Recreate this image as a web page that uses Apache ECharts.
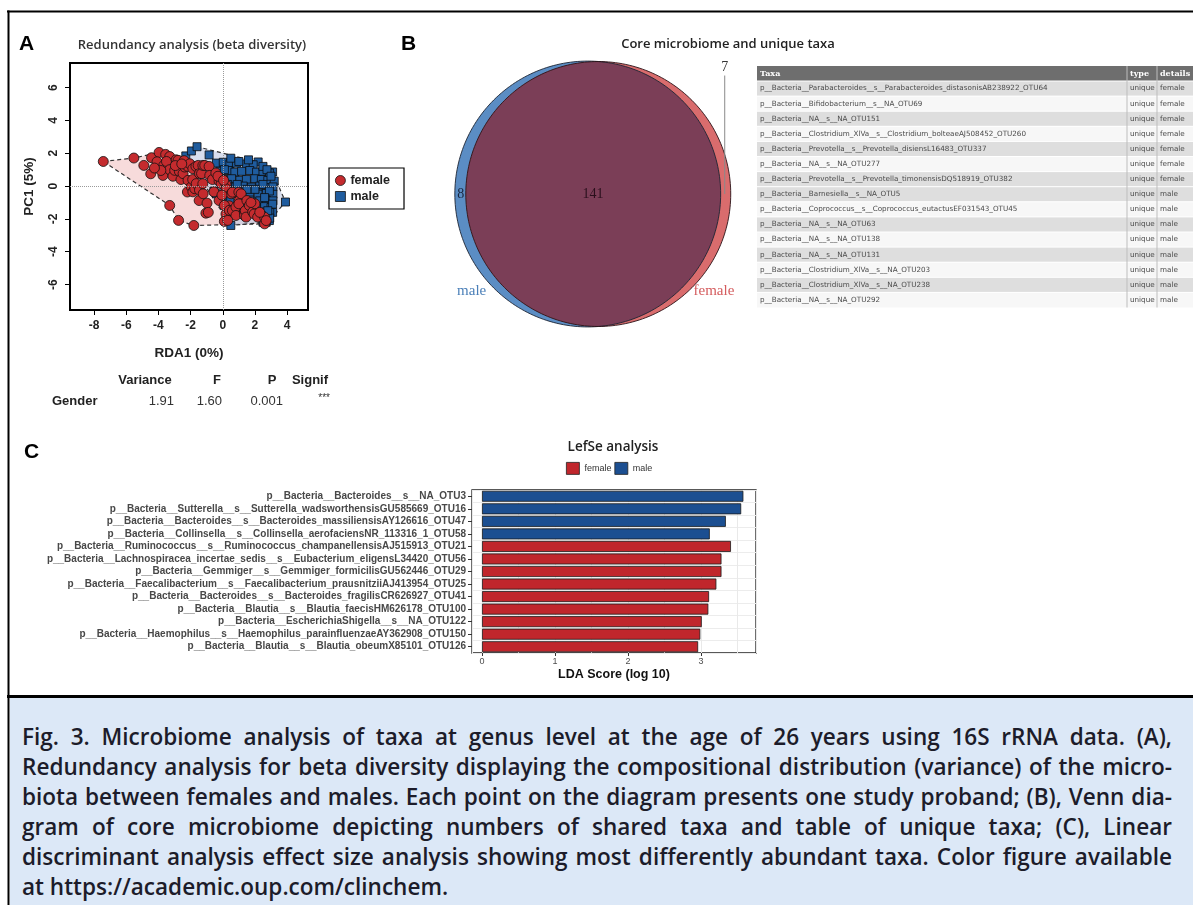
<!DOCTYPE html>
<html><head><meta charset="utf-8">
<script src="https://cdn.jsdelivr.net/npm/echarts@6/dist/echarts.min.js"></script>
<style>
html,body{margin:0;padding:0;background:#fff;}
#wrap{position:relative;width:1193px;height:905px;overflow:hidden;}
#chart{position:absolute;left:0;top:0;width:1193px;height:905px;}
#caption{position:absolute;left:10px;top:698px;width:1183px;height:207px;background:#dce8f7;overflow:hidden;}
#capText{position:absolute;left:12px;top:23px;width:1150px;transform-origin:0 0;font-family:"Open Sans","Noto Sans",sans-serif;font-weight:600;font-size:24px;line-height:30px;color:#1c1c2a;}
#capText div{text-align:justify;text-align-last:justify;}
#capText div.last{text-align-last:left;}
</style>
</head><body>
<div id="wrap">
<div id="chart"></div>
<div id="caption"><div id="capText">
<div>Fig. 3. Microbiome analysis of taxa at genus level at the age of 26 years using 16S rRNA data. (A),</div>
<div>Redundancy analysis for beta diversity displaying the compositional distribution (variance) of the micro-</div>
<div>biota between females and males. Each point on the diagram presents one study proband; (B), Venn dia-</div>
<div>gram of core microbiome depicting numbers of shared taxa and table of unique taxa; (C), Linear</div>
<div>discriminant analysis effect size analysis showing most differently abundant taxa. Color figure available</div>
<div class="last">at https://academic.oup.com/clinchem.</div>
</div></div>
</div>
<script>
// ---------------- DATA ----------------
// Panel A: RDA scores (RDA1, PC1)
const femalePts = [
[-7.43,1.50],[-5.53,1.71],[-4.91,1.26],[-4.48,0.75],[-4.43,1.73],[-3.96,2.05],[-4.09,1.48],[-3.72,0.65],[-3.55,1.93],[-3.67,1.26],
[-3.30,1.80],[-3.50,1.50],[-3.30,1.00],[-3.10,0.60],[-2.99,0.96],[-2.90,1.60],[-2.78,1.57],[-2.70,0.90],[-2.60,0.40],[-2.47,0.76],
[-2.40,1.55],[-2.37,1.16],[-2.20,-0.36],[-2.18,1.20],[-2.16,0.35],[-2.05,1.36],[-1.96,-0.05],[-1.87,0.40],[-1.86,1.06],[-1.86,-0.35],
[-1.74,-0.16],[-1.67,1.20],[-1.65,0.15],[-1.53,1.26],[-1.47,-0.88],[-1.45,0.76],[-1.45,-0.25],[-1.32,0.76],[-1.24,1.26],[-1.24,0.15],
[-1.22,-0.47],[-1.12,1.26],[-1.05,-1.65],[-0.98,-1.04],[-0.85,1.20],[-0.81,0.65],[-0.64,0.40],[-0.43,0.80],[-0.23,0.30],[-0.23,-0.88],
[-0.10,0.15],[0.20,0.10],[0.21,-0.16],[0.52,-0.47],[0.60,-0.37],[0.40,-1.20],[0.10,-1.18],[0.20,-1.70],[0.41,-1.48],[0.60,-1.50],
[0.82,-1.28],[0.82,-1.79],[1.00,-0.37],[1.03,-0.87],[1.14,-0.47],[1.00,-1.08],[1.34,-1.58],[1.35,-1.80],[1.40,-1.50],[1.45,-1.89],
[1.50,-0.88],[1.65,-1.18],[1.86,-1.58],[1.95,-1.70],[2.00,-1.08],[2.17,-1.89],[2.60,-1.90],[2.60,-2.30],[2.70,-2.10],[0.10,-2.15],
[0.31,-2.09],[-3.30,-1.18],[-2.75,-2.09],[-1.80,-2.40],[-0.90,-1.60],[-0.55,-0.35],[-0.30,0.60],[0.05,0.35],[-2.95,1.25],[-3.85,0.95],
[-4.25,1.10],[-2.55,1.35],[2.30,-1.60],[1.75,-1.00],[-0.05,-0.55]
];
const malePts = [
[-2.30,1.84],[-1.95,2.14],[-1.60,2.40],[-0.85,1.90],[2.20,1.47],[3.10,0.86],[3.90,-0.97],[0.50,-2.40],[2.90,-2.10],[2.70,-2.20],
[-0.39,1.40],[0.03,1.45],[0.44,1.35],[0.85,1.40],[1.47,1.35],[1.89,1.30],
[-0.18,0.90],[0.34,0.95],[0.75,0.85],[1.17,0.90],[1.68,0.95],[2.10,0.85],[2.50,0.90],[2.90,0.80],
[0.03,0.40],[0.55,0.45],[1.06,0.35],[1.47,0.40],[1.99,0.45],[2.40,0.40],[2.80,0.35],[3.20,0.30],
[0.65,-0.06],[1.27,0.00],[1.78,-0.06],[2.30,0.00],[2.71,-0.10],[3.12,-0.05],
[-0.39,-0.47],[0.13,-0.50],[0.96,-0.45],[1.68,-0.47],[2.20,-0.50],[2.71,-0.45],[3.12,-0.50],
[0.44,-0.90],[1.06,-0.87],[1.68,-0.85],[2.30,-0.90],[2.71,-0.87],[3.12,-0.90],
[1.27,-1.30],[2.09,-1.28],[2.60,-1.25],[3.00,-1.30],[3.10,-1.60],
[1.68,-1.60],[2.30,-1.58],[2.92,-1.60],[2.71,-2.00],[2.92,-1.95],[2.50,-2.20],
[0.50,1.70],[1.00,1.50],[1.60,1.60],[2.50,1.20],[2.75,1.00],[3.00,0.60],[2.50,0.10],[2.90,-0.30],[2.60,-0.70],[2.00,-0.20],
[1.50,-0.20],[0.90,0.10],[0.30,0.10],[-0.20,0.60],[0.10,1.00],[3.10,-1.10],[2.80,-1.50],[2.40,-1.80],[0.00,-0.60],[-0.55,-0.30]
];
const femaleHull = [[-7.43,1.50],[-5.53,1.71],[-3.96,2.05],[-0.85,1.20],[2.00,-1.08],[2.60,-1.90],[2.70,-2.10],[2.60,-2.30],[-1.80,-2.40],[-2.75,-2.09],[-3.30,-1.18]];
const maleHull = [[-2.30,1.84],[-1.60,2.40],[2.20,1.47],[3.10,0.86],[3.90,-0.97],[2.90,-2.10],[2.70,-2.20],[0.50,-2.40]];
const rdaXTicks = [-8,-6,-4,-2,0,2,4];
const rdaYTicks = [-6,-4,-2,0,2,4,6];
const statsHeader = ['Variance','F','P','Signif'];
const statsRowName = 'Gender';
const statsRowValues = ['1.91','1.60','0.001','***'];

// Panel B: Venn counts and unique-taxa table
const vennUniqueMale = 8;
const vennUniqueFemale = 7;
const vennShared = 141;
const tableHeader = ['Taxa','type','details'];
const taxaNames = [
'p__Bacteria__Parabacteroides__s__Parabacteroides_distasonisAB238922_OTU64',
'p__Bacteria__Bifidobacterium__s__NA_OTU69',
'p__Bacteria__NA__s__NA_OTU151',
'p__Bacteria__Clostridium_XlVa__s__Clostridium_bolteaeAJ508452_OTU260',
'p__Bacteria__Prevotella__s__Prevotella_disiensL16483_OTU337',
'p__Bacteria__NA__s__NA_OTU277',
'p__Bacteria__Prevotella__s__Prevotella_timonensisDQ518919_OTU382',
'p__Bacteria__Barnesiella__s__NA_OTU5',
'p__Bacteria__Coprococcus__s__Coprococcus_eutactusEF031543_OTU45',
'p__Bacteria__NA__s__NA_OTU63',
'p__Bacteria__NA__s__NA_OTU138',
'p__Bacteria__NA__s__NA_OTU131',
'p__Bacteria__Clostridium_XlVa__s__NA_OTU203',
'p__Bacteria__Clostridium_XlVa__s__NA_OTU238',
'p__Bacteria__NA__s__NA_OTU292'
];
const taxaType = ['unique','unique','unique','unique','unique','unique','unique','unique','unique','unique','unique','unique','unique','unique','unique'];
const taxaDetails = ['female','female','female','female','female','female','female','male','male','male','male','male','male','male','male'];

// Panel C: LEfSe
const lefseTaxa = [
'p__Bacteria__Bacteroides__s__NA_OTU3',
'p__Bacteria__Sutterella__s__Sutterella_wadsworthensisGU585669_OTU16',
'p__Bacteria__Bacteroides__s__Bacteroides_massiliensisAY126616_OTU47',
'p__Bacteria__Collinsella__s__Collinsella_aerofaciensNR_113316_1_OTU58',
'p__Bacteria__Ruminococcus__s__Ruminococcus_champanellensisAJ515913_OTU21',
'p__Bacteria__Lachnospiracea_incertae_sedis__s__Eubacterium_eligensL34420_OTU56',
'p__Bacteria__Gemmiger__s__Gemmiger_formicilisGU562446_OTU29',
'p__Bacteria__Faecalibacterium__s__Faecalibacterium_prausnitziiAJ413954_OTU25',
'p__Bacteria__Bacteroides__s__Bacteroides_fragilisCR626927_OTU41',
'p__Bacteria__Blautia__s__Blautia_faecisHM626178_OTU100',
'p__Bacteria__EscherichiaShigella__s__NA_OTU122',
'p__Bacteria__Haemophilus__s__Haemophilus_parainfluenzaeAY362908_OTU150',
'p__Bacteria__Blautia__s__Blautia_obeumX85101_OTU126'
];
const lefseScores = [3.58,3.55,3.34,3.12,3.41,3.28,3.28,3.21,3.11,3.10,3.01,2.99,2.96];
const lefseGroup = ['male','male','male','male','female','female','female','female','female','female','female','female','female'];
const ldaTicks = [0,1,2,3];

// ---------------- CAPTION FIT (condense to the widest line) ----------------
(function(){
  const box = document.getElementById('capText');
  const lines = Array.from(box.children);
  let maxW = 0;
  lines.forEach(d => {
    const s = document.createElement('span');
    s.style.whiteSpace = 'nowrap';
    s.textContent = d.textContent;
    d.textContent = '';
    d.appendChild(s);
    maxW = Math.max(maxW, s.getBoundingClientRect().width);
  });
  lines.forEach(d => { d.textContent = d.firstChild.textContent; });
  const target = 1150 * 0.985;
  const sc = Math.min(1, target / maxW);
  box.style.width = (1150 / sc) + 'px';
  box.style.transform = 'scaleX(' + sc + ')';
})();

// ---------------- CHART ----------------
const RED = '#c42b2e', BLUE = '#1f5c9e', BAR_RED = '#c0262c', BAR_BLUE = '#1c4f91';
const chart = echarts.init(document.getElementById('chart'));

// Venn geometry derived from counts (area-proportional circles)
const rM = Math.sqrt((vennUniqueMale + vennShared) / Math.PI);
const rF = Math.sqrt((vennUniqueFemale + vennShared) / Math.PI);
function clamp1(v){ return Math.max(-1, Math.min(1, v)); }
function lensArea(d, r1, r2){
  const a1 = Math.acos(clamp1((d*d + r1*r1 - r2*r2) / (2*d*r1)));
  const a2 = Math.acos(clamp1((d*d + r2*r2 - r1*r1) / (2*d*r2)));
  return r1*r1*a1 + r2*r2*a2 - 0.5*Math.sqrt(Math.max(0,(-d+r1+r2)*(d+r1-r2)*(d-r1+r2)*(d+r1+r2)));
}
let lo = Math.abs(rM - rF) + 1e-6, hi = rM + rF;
for (let i = 0; i < 80; i++){ const mid = (lo+hi)/2; if (lensArea(mid, rM, rF) > vennShared) lo = mid; else hi = mid; }
const vD = (lo + hi) / 2;

function vennRender(params, api){
  const mc = -vD/2, fc = vD/2;
  const P = (x, y) => api.coord([x, y]);
  const circ = (cx, r) => { const pts = []; for (let i = 0; i < 240; i++){ const t = 2*Math.PI*i/240; pts.push(P(cx + r*Math.cos(t), r*Math.sin(t))); } return pts; };
  const a = (vD*vD + rM*rM - rF*rF) / (2*vD);
  const xi = mc + a, yi = Math.sqrt(Math.max(0, rM*rM - a*a));
  const phiT = Math.atan2(yi, xi - fc);
  const psiT = Math.atan2(yi, xi - mc);
  const lens = [];
  for (let i = 0; i <= 120; i++){ const t = phiT + (2*Math.PI - 2*phiT)*i/120; lens.push(P(fc + rF*Math.cos(t), rF*Math.sin(t))); }
  for (let i = 0; i <= 120; i++){ const t = -psiT + 2*psiT*i/120; lens.push(P(mc + rM*Math.cos(t), rM*Math.sin(t))); }
  const mPts = circ(mc, rM), fPts = circ(fc, rF);
  const right = P(fc + rF, 0), top = P(fc, rF), ctr = P(0, 0);
  const lbl8 = P(mc - rM*0.955, 0);
  const lblM = P(mc + 1.14*rM*Math.cos(220*Math.PI/180), 1.14*rM*Math.sin(220*Math.PI/180));
  const lblF = P(fc + 1.14*rF*Math.cos(-40*Math.PI/180), 1.14*rF*Math.sin(-40*Math.PI/180));
  const serif = '"Liberation Serif", "DejaVu Serif", serif';
  const T = (x, y, text, size, fill) => ({type:'text', x, y, style:{text, fill, fontSize:size, fontFamily:serif, align:'center', textAlign:'center', verticalAlign:'middle', textVerticalAlign:'middle'}});
  return {type:'group', children:[
    {type:'polygon', shape:{points:mPts}, style:{fill:'#5b8dc4'}},
    {type:'polygon', shape:{points:fPts}, style:{fill:'#d96c6d'}},
    {type:'polygon', shape:{points:lens}, style:{fill:'#7b3e57'}},
    {type:'polygon', shape:{points:mPts}, style:{fill:'none', stroke:'#1d2533', lineWidth:0.9}},
    {type:'polygon', shape:{points:fPts}, style:{fill:'none', stroke:'#2a1418', lineWidth:0.9}},
    {type:'line', shape:{x1:right[0]-6, y1:top[1]+14, x2:right[0]-6, y2:ctr[1]}, style:{stroke:'#8a8a8a', lineWidth:1}},
    T(right[0]-6, top[1]+6, String(vennUniqueFemale), 14, '#333'),
    T(lbl8[0], lbl8[1], String(vennUniqueMale), 14, '#18263f'),
    T(ctr[0], ctr[1], String(vennShared), 14, '#2a0f1c'),
    T(lblM[0], lblM[1], 'male', 15, '#4a7fb8'),
    T(lblF[0], lblF[1], 'female', 15, '#d45b5d')
  ]};
}

function hullSeries(name, pts, fill){
  return {type:'custom', name, xAxisIndex:0, yAxisIndex:0, data:[[0,0]], z:1, silent:true,
    renderItem:(params, api) => ({type:'polygon', shape:{points: pts.map(p => api.coord(p))},
      style:{fill, stroke:'#333', lineWidth:1.2, lineDash:[4,3]}})};
}

// ---------------- GRAPHIC (texts, table, frames) ----------------
const G = [];
function txt(x, y, text, o){
  o = o || {};
  G.push({type:'text', x, y, silent:true, z:50, style:{text, fill:o.fill || '#222', fontSize:o.size || 12,
    fontFamily:o.family || '"Liberation Sans", Arial, sans-serif', fontWeight:o.weight || 'normal',
    align:o.align || 'left', textAlign:o.align || 'left', verticalAlign:'middle', textVerticalAlign:'middle'}});
}
txt(19, 44, 'A', {size:21, weight:'bold', fill:'#000'});
txt(401, 44, 'B', {size:21, weight:'bold', fill:'#000'});
txt(24, 452, 'C', {size:21, weight:'bold', fill:'#000'});
const titleFont = '"Open Sans", "Noto Sans", sans-serif';
txt(192, 45, 'Redundancy analysis (beta diversity)', {size:13, weight:600, family:titleFont, align:'center', fill:'#333'});
txt(728, 44, 'Core microbiome and unique taxa', {size:13, weight:600, family:titleFont, align:'center', fill:'#222'});
txt(613, 447, 'LefSe analysis', {size:13.5, weight:600, family:titleFont, align:'center', fill:'#222'});
const statX = [145, 217, 272, 310];
statsHeader.forEach((h, i) => txt(statX[i], 380, h, {size:13, weight:'bold', align:'center', fill:'#222'}));
txt(52, 401, statsRowName, {size:13, weight:'bold', fill:'#222'});
const valX = [174, 222, 283, 330];
statsRowValues.forEach((v, i) => txt(valX[i], i === 3 ? 398 : 401, v, {size:i === 3 ? 10 : 13, align:'right', fill:'#333'}));
// unique taxa table
const tX = 757, tW = 436, hdrY = 66, hdrH = 15, rowH = 15.1;
const colX = [757, 1127, 1157];
const rowShade = [1,0,1,0,1,0,1,1,0,1,0,1,0,1,0];
G.push({type:'rect', z:40, silent:true, shape:{x:tX, y:hdrY, width:tW, height:hdrH}, style:{fill:'#6e6e6e'}});
tableHeader.forEach((h, i) => txt(colX[i] + 3, hdrY + hdrH/2, h, {size:8, weight:'bold', fill:'#fff', family:'"DejaVu Serif", serif'}));
taxaNames.forEach((n, i) => {
  const y = hdrY + hdrH + i*rowH;
  G.push({type:'rect', z:40, silent:true, shape:{x:tX, y, width:tW, height:rowH}, style:{fill: rowShade[i] ? '#dedede' : '#f7f7f7'}});
  G.push({type:'line', z:41, silent:true, shape:{x1:tX, y1:y, x2:tX+tW, y2:y}, style:{stroke:'#fff', lineWidth:1}});
  txt(colX[0] + 3, y + rowH/2, n, {size:7.2, fill:'#4a4a4a', family:'"DejaVu Sans", sans-serif'});
  txt(colX[1] + 3, y + rowH/2, taxaType[i], {size:7.2, fill:'#4a4a4a', family:'"DejaVu Sans", sans-serif'});
  txt(colX[2] + 3, y + rowH/2, taxaDetails[i], {size:7.2, fill:'#4a4a4a', family:'"DejaVu Sans", sans-serif'});
});
const tBottom = hdrY + hdrH + taxaNames.length*rowH;
[colX[1], colX[2]].forEach(x => G.push({type:'line', z:41, silent:true, shape:{x1:x, y1:hdrY, x2:x, y2:tBottom}, style:{stroke:'#bdbdbd', lineWidth:1}}));
// frames
G.push({type:'line', z:100, silent:true, shape:{x1:7, y1:11.5, x2:1193, y2:11.5}, style:{stroke:'#000', lineWidth:2}});
G.push({type:'line', z:100, silent:true, shape:{x1:8.5, y1:10.5, x2:8.5, y2:905}, style:{stroke:'#000', lineWidth:2}});
G.push({type:'line', z:100, silent:true, shape:{x1:7, y1:696.5, x2:1193, y2:696.5}, style:{stroke:'#000', lineWidth:3}});

const rFont = '"Liberation Sans", Arial, sans-serif';
const femaleBars = lefseScores.map((v, i) => lefseGroup[i] === 'female' ? v : '-');
const maleBars = lefseScores.map((v, i) => lefseGroup[i] === 'male' ? v : '-');

const option = {
  animation: false,
  backgroundColor: '#fff',
  graphic: {elements: G},
  legend: [
    {left:329, top:168, orient:'vertical', padding:[6,14,6,6], itemGap:3, itemWidth:10, itemHeight:10,
     borderColor:'#000', borderWidth:1.2, selectedMode:false,
     textStyle:{fontFamily:rFont, fontWeight:'bold', fontSize:12.5, color:'#222'},
     data:[{name:'female', icon:'circle', itemStyle:{color:RED, borderColor:'#111', borderWidth:0.8}},
           {name:'male', icon:'rect', itemStyle:{color:BLUE, borderColor:'#111', borderWidth:0.8}}]},
    {left:566, top:462, orient:'horizontal', padding:0, itemGap:3, itemWidth:13, itemHeight:12, selectedMode:false,
     textStyle:{fontFamily:rFont, fontSize:9, color:'#333'},
     data:[{name:'female', icon:'rect', itemStyle:{color:BAR_RED, borderColor:'#222', borderWidth:0.8}},
           {name:'male', icon:'rect', itemStyle:{color:BAR_BLUE, borderColor:'#222', borderWidth:0.8}}]}
  ],
  grid: [
    {left:70, top:63, width:238, height:247, show:true, borderColor:'#000', borderWidth:2, backgroundColor:'#fff'},
    {left:438.6, top:39.6, width:308.8, height:308.8, show:false},
    {left:472, top:490, width:284, height:163, show:true, borderColor:'#222', borderWidth:1.3, backgroundColor:'#fff'}
  ],
  xAxis: [
    {gridIndex:0, type:'value', min:-9.5, max:5.3, position:'bottom', axisLine:{show:false, onZero:false},
     axisTick:{show:true, length:5, customValues:rdaXTicks, lineStyle:{color:'#000', width:1}},
     axisLabel:{customValues:rdaXTicks, margin:10, fontFamily:rFont, fontWeight:'bold', fontSize:12, color:'#222'},
     splitLine:{show:false},
     name:'RDA1 (0%)', nameLocation:'middle', nameGap:36,
     nameTextStyle:{fontFamily:rFont, fontWeight:'bold', fontSize:13.5, color:'#222'}},
    {gridIndex:1, type:'value', min:-8, max:8, show:false, axisLine:{onZero:false}},
    {gridIndex:2, type:'value', min:-0.137, max:3.753, position:'bottom', axisLine:{show:false, onZero:false},
     axisTick:{show:true, length:3, customValues:ldaTicks, lineStyle:{color:'#333'}},
     axisLabel:{customValues:ldaTicks, margin:4, fontFamily:rFont, fontSize:9, color:'#4d4d4d'},
     splitLine:{show:false},
     name:'LDA Score (log 10)', nameLocation:'middle', nameGap:15,
     nameTextStyle:{fontFamily:rFont, fontWeight:'bold', fontSize:12.5, color:'#111'}},
    {gridIndex:2, type:'value', min:-0.137, max:3.753, splitNumber:8, position:'bottom',
     axisLine:{show:false, onZero:false}, axisTick:{show:false}, axisLabel:{show:false},
     splitLine:{show:true, lineStyle:{color:'#e9e9e9', width:1}}}
  ],
  yAxis: [
    {gridIndex:0, type:'value', min:-7.55, max:7.5, position:'left', axisLine:{show:false, onZero:false},
     axisTick:{show:true, length:5, customValues:rdaYTicks, lineStyle:{color:'#000', width:1}},
     axisLabel:{customValues:rdaYTicks, rotate:90, margin:10, fontFamily:rFont, fontWeight:'bold', fontSize:12, color:'#222'},
     splitLine:{show:false},
     name:'PC1 (5%)', nameLocation:'middle', nameGap:34,
     nameTextStyle:{fontFamily:rFont, fontWeight:'bold', fontSize:13.5, color:'#222'}},
    {gridIndex:1, type:'value', min:-8, max:8, show:false, axisLine:{onZero:false}},
    {gridIndex:2, type:'category', data:lefseTaxa, inverse:true, axisLine:{show:false, onZero:false},
     axisTick:{show:true, length:4, alignWithLabel:true, lineStyle:{color:'#333'}},
     axisLabel:{interval:0, margin:6, fontFamily:rFont, fontWeight:'bold', fontSize:10, color:'#484848'},
     splitLine:{show:true, lineStyle:{color:'#ececec'}}}
  ],
  series: [
    hullSeries('femaleHull', femaleHull, 'rgba(240,190,190,0.55)'),
    hullSeries('maleHull', maleHull, 'rgba(190,200,225,0.6)'),
    {type:'scatter', name:'origin', xAxisIndex:0, yAxisIndex:0, data:[], z:1.5,
     markLine:{silent:true, symbol:'none', label:{show:false}, animation:false,
       lineStyle:{type:'dotted', color:'#9a9a9a', width:1}, data:[{xAxis:0},{yAxis:0}]}},
    {type:'scatter', name:'male', xAxisIndex:0, yAxisIndex:0, data:malePts, symbol:'rect', symbolSize:8, z:3,
     itemStyle:{color:BLUE, borderColor:'#0b0b0b', borderWidth:0.8, opacity:1}},
    {type:'scatter', name:'female', xAxisIndex:0, yAxisIndex:0, data:femalePts, symbol:'circle', symbolSize:10, z:4,
     itemStyle:{color:RED, borderColor:'#111', borderWidth:0.8, opacity:1}},
    {type:'custom', name:'venn', xAxisIndex:1, yAxisIndex:1, data:[[0,0]], silent:true, z:2, renderItem:vennRender},
    {type:'bar', name:'female', xAxisIndex:2, yAxisIndex:2, data:femaleBars, barWidth:11, barGap:'-100%', z:3,
     itemStyle:{color:BAR_RED, borderColor:'#1a1a1a', borderWidth:0.8}},
    {type:'bar', name:'male', xAxisIndex:2, yAxisIndex:2, data:maleBars, barWidth:11, barGap:'-100%', z:3,
     itemStyle:{color:BAR_BLUE, borderColor:'#1a1a1a', borderWidth:0.8}}
  ]
};
chart.setOption(option);
</script>
</body></html>
